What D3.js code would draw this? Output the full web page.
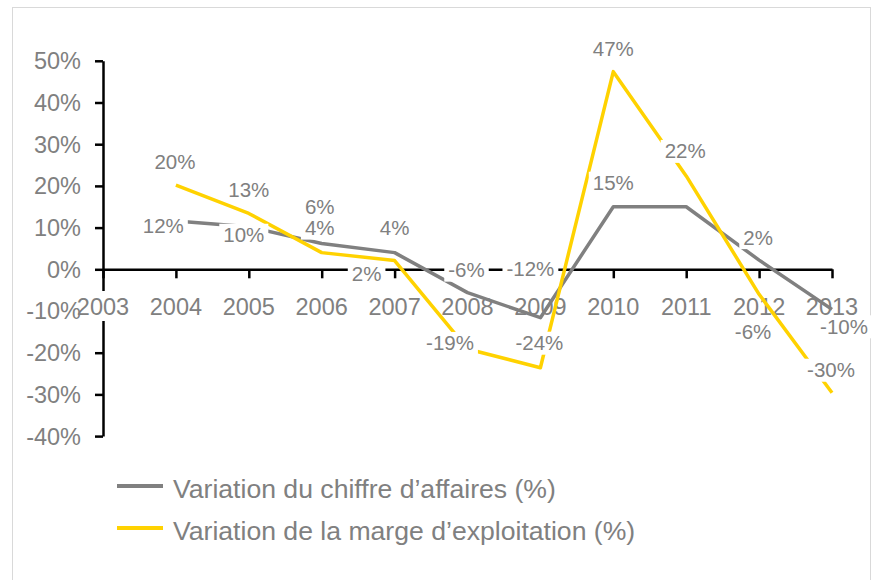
<!DOCTYPE html>
<html>
<head>
<meta charset="utf-8">
<script src="https://cdn.jsdelivr.net/npm/d3@7/dist/d3.min.js"></script>
<style>
  html, body { margin: 0; padding: 0; background: #fff; }
  svg { display: block; }
  text { font-family: "Liberation Sans", Arial, sans-serif; fill: #808080; }
</style>
</head>
<body>
<svg id="chart" width="878" height="580"></svg>
<script>
// ---- Data ----
const years = [2004, 2005, 2006, 2007, 2008, 2009, 2010, 2011, 2012, 2013];
const revenueVar = [11.6, 10.2, 6.2, 4.0, -5.6, -11.6, 15.0, 15.0, 2.2, -9.6];   // Variation du chiffre d'affaires (%)
const marginVar  = [20.2, 13.4, 4.0, 2.1, -19.1, -23.6, 47.4, 22.4, -6.0, -29.6]; // Variation de la marge d'exploitation (%)
const seriesNames = ["Variation du chiffre d\u2019affaires (%)", "Variation de la marge d\u2019exploitation (%)"];
const yTicks = [-40, -30, -20, -10, 0, 10, 20, 30, 40, 50];
const xTicks = [2003, 2004, 2005, 2006, 2007, 2008, 2009, 2010, 2011, 2012, 2013];

// ---- Label layout (offsets of label centre from its point; null = no label) ----
const revenueLabelOffsets = [[-12.6, 5], [-5, 8], [-2, -37], [0, -25], [-1, -23], [-10, -49], [0, -24], null, [-1, -23], [12, 17]];
const marginLabelOffsets  = [[-1, -23], [0, -24], [-2, -25], [-28, 13], [-17.5, -6], [-1, -25], [0, -23], [-1, -25], [-6, 37], [-1, -23]];

const colors = { revenue: "#808080", margin: "#FFD200", text: "#808080" };

const svg = d3.select("#chart");

// outer frame
svg.append("rect").attr("x", 12.5).attr("y", 7.5).attr("width", 858).attr("height", 620)
  .attr("fill", "#fff").attr("stroke", "#d9d9d9").attr("stroke-width", 1);

const x = d3.scaleLinear().domain([2003, 2013]).range([103, 832]);
const y = d3.scaleLinear().domain([-40, 50]).range([436.1, 60.8]);

const tickFont = 23.5, labelFont = 20.5, legendFont = 26.6;

// y axis line + ticks
const yAxisG = svg.append("g").attr("transform", `translate(${x(2003)},0)`);
yAxisG.call(d3.axisLeft(y).tickValues(yTicks).tickSize(8).tickSizeOuter(0).tickFormat(""));
yAxisG.select(".domain").attr("stroke", "#000").attr("stroke-width", 2.5);
yAxisG.selectAll(".tick line").attr("stroke", "#000").attr("stroke-width", 2.5);

// x axis line + ticks at y=0
const xAxisG = svg.append("g").attr("transform", `translate(0,${y(0)})`);
xAxisG.call(d3.axisBottom(x).tickValues(xTicks).tickSize(9).tickSizeOuter(0).tickFormat(""));
xAxisG.select(".domain").attr("stroke", "#000").attr("stroke-width", 2.5);
xAxisG.selectAll(".tick line").attr("stroke", "#000").attr("stroke-width", 2.5);

// x tick labels (with white background)
const xLab = svg.append("g");
xTicks.forEach(t => {
  const g = xLab.append("g");
  const txt = g.append("text").attr("x", x(t)).attr("y", 315).attr("text-anchor", "middle")
    .attr("font-size", tickFont).text(String(t));
  const bb = txt.node().getBBox();
  g.insert("rect", "text").attr("x", bb.x - 2).attr("y", 291).attr("width", bb.width + 4).attr("height", 30).attr("fill", "#fff");
});

// y tick labels
svg.append("g").selectAll("text").data(yTicks).join("text")
  .attr("x", 81).attr("y", d => y(d)).attr("dy", "0.36em").attr("text-anchor", "end")
  .attr("font-size", tickFont).text(d => `${d}%`);

// lines
const line = d3.line().x(d => x(d[0])).y(d => y(d[1]));
const revPts = years.map((yr, i) => [yr, revenueVar[i]]);
const marPts = years.map((yr, i) => [yr, marginVar[i]]);
svg.append("path").attr("d", line(revPts)).attr("fill", "none").attr("stroke", colors.revenue)
  .attr("stroke-width", 3.5).attr("stroke-linejoin", "round");
svg.append("path").attr("d", line(marPts)).attr("fill", "none").attr("stroke", colors.margin)
  .attr("stroke-width", 3.5).attr("stroke-linejoin", "round");

// data labels with white boxes
function drawLabels(pts, offsets) {
  const g = svg.append("g");
  pts.forEach((p, i) => {
    const off = offsets[i];
    if (!off) return;
    const cx = x(p[0]) + off[0], cy = y(p[1]) + off[1];
    const lg = g.append("g");
    const txt = lg.append("text").attr("x", cx).attr("y", cy).attr("dy", "0.36em")
      .attr("text-anchor", "middle").attr("font-size", labelFont).text(`${Math.round(p[1])}%`);
    const bb = txt.node().getBBox();
    lg.insert("rect", "text").attr("x", bb.x - 4).attr("y", cy - 11).attr("width", bb.width + 8)
      .attr("height", 23).attr("fill", "#fff");
  });
}
drawLabels(revPts, revenueLabelOffsets);
drawLabels(marPts, marginLabelOffsets);

// legend
const legend = svg.append("g");
[[colors.revenue, seriesNames[0], 486], [colors.margin, seriesNames[1], 528]].forEach(([c, name, ly]) => {
  legend.append("line").attr("x1", 117).attr("x2", 163).attr("y1", ly).attr("y2", ly)
    .attr("stroke", c).attr("stroke-width", 4);
  legend.append("text").attr("x", 173).attr("y", ly + 2).attr("dy", "0.36em")
    .attr("font-size", legendFont).text(name);
});
</script>
</body>
</html>
